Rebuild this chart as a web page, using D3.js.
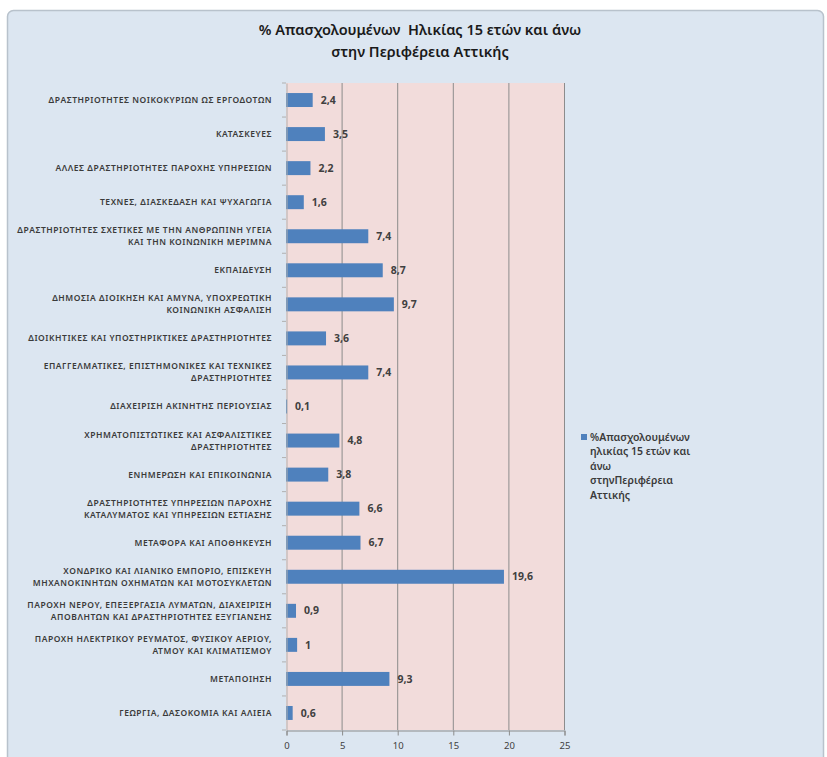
<!DOCTYPE html>
<html><head><meta charset="utf-8">
<script src="https://cdn.jsdelivr.net/npm/d3@7"></script>
<style>body{margin:0;background:#fff}svg{display:block}</style>
</head><body>
<script>
const categories = [
  "ΔΡΑΣΤΗΡΙΟΤΗΤΕΣ ΝΟΙΚΟΚΥΡΙΩΝ ΩΣ ΕΡΓΟΔΟΤΩΝ",
  "ΚΑΤΑΣΚΕΥΕΣ",
  "ΑΛΛΕΣ ΔΡΑΣΤΗΡΙΟΤΗΤΕΣ ΠΑΡΟΧΗΣ ΥΠΗΡΕΣΙΩΝ",
  "ΤΕΧΝΕΣ, ΔΙΑΣΚΕΔΑΣΗ ΚΑΙ ΨΥΧΑΓΩΓΙΑ",
  "ΔΡΑΣΤΗΡΙΟΤΗΤΕΣ ΣΧΕΤΙΚΕΣ ΜΕ ΤΗΝ ΑΝΘΡΩΠΙΝΗ ΥΓΕΙΑ|ΚΑΙ ΤΗΝ ΚΟΙΝΩΝΙΚΗ ΜΕΡΙΜΝΑ",
  "ΕΚΠΑΙΔΕΥΣΗ",
  "ΔΗΜΟΣΙΑ ΔΙΟΙΚΗΣΗ ΚΑΙ ΑΜΥΝΑ, ΥΠΟΧΡΕΩΤΙΚΗ|ΚΟΙΝΩΝΙΚΗ ΑΣΦΑΛΙΣΗ",
  "ΔΙΟΙΚΗΤΙΚΕΣ ΚΑΙ ΥΠΟΣΤΗΡΙΚΤΙΚΕΣ ΔΡΑΣΤΗΡΙΟΤΗΤΕΣ",
  "ΕΠΑΓΓΕΛΜΑΤΙΚΕΣ, ΕΠΙΣΤΗΜΟΝΙΚΕΣ ΚΑΙ ΤΕΧΝΙΚΕΣ|ΔΡΑΣΤΗΡΙΟΤΗΤΕΣ",
  "ΔΙΑΧΕΙΡΙΣΗ ΑΚΙΝΗΤΗΣ ΠΕΡΙΟΥΣΙΑΣ",
  "ΧΡΗΜΑΤΟΠΙΣΤΩΤΙΚΕΣ ΚΑΙ ΑΣΦΑΛΙΣΤΙΚΕΣ|ΔΡΑΣΤΗΡΙΟΤΗΤΕΣ",
  "ΕΝΗΜΕΡΩΣΗ ΚΑΙ ΕΠΙΚΟΙΝΩΝΙΑ",
  "ΔΡΑΣΤΗΡΙΟΤΗΤΕΣ ΥΠΗΡΕΣΙΩΝ ΠΑΡΟΧΗΣ|ΚΑΤΑΛΥΜΑΤΟΣ ΚΑΙ ΥΠΗΡΕΣΙΩΝ ΕΣΤΙΑΣΗΣ",
  "ΜΕΤΑΦΟΡΑ ΚΑΙ ΑΠΟΘΗΚΕΥΣΗ",
  "ΧΟΝΔΡΙΚΟ ΚΑΙ ΛΙΑΝΙΚΟ ΕΜΠΟΡΙΟ, ΕΠΙΣΚΕΥΗ|ΜΗΧΑΝΟΚΙΝΗΤΩΝ ΟΧΗΜΑΤΩΝ ΚΑΙ ΜΟΤΟΣΥΚΛΕΤΩΝ",
  "ΠΑΡΟΧΗ ΝΕΡΟΥ, ΕΠΕΞΕΡΓΑΣΙΑ ΛΥΜΑΤΩΝ, ΔΙΑΧΕΙΡΙΣΗ|ΑΠΟΒΛΗΤΩΝ ΚΑΙ ΔΡΑΣΤΗΡΙΟΤΗΤΕΣ ΕΞΥΓΙΑΝΣΗΣ",
  "ΠΑΡΟΧΗ ΗΛΕΚΤΡΙΚΟΥ ΡΕΥΜΑΤΟΣ, ΦΥΣΙΚΟΥ ΑΕΡΙΟΥ,|ΑΤΜΟΥ ΚΑΙ ΚΛΙΜΑΤΙΣΜΟΥ",
  "ΜΕΤΑΠΟΙΗΣΗ",
  "ΓΕΩΡΓΙΑ, ΔΑΣΟΚΟΜΙΑ ΚΑΙ ΑΛΙΕΙΑ"
];
const values = [2.4, 3.5, 2.2, 1.6, 7.4, 8.7, 9.7, 3.6, 7.4, 0.1, 4.8, 3.8, 6.6, 6.7, 19.6, 0.9, 1, 9.3, 0.6];
const xTicks = [0, 5, 10, 15, 20, 25];
const titleLines = ["% Απασχολουμένων  Ηλικίας 15 ετών και άνω", "στην Περιφέρεια Αττικής"];
const legendLines = ["%Απασχολουμένων", "ηλικίας 15 ετών και", "άνω", "στηνΠεριφέρεια", "Αττικής"];

const W = 827, H = 757;
const svg = d3.select("body").append("svg").attr("width", W).attr("height", H);
const font = "'Noto Sans', 'DejaVu Sans', sans-serif";

svg.append("rect").attr("x", 7.5).attr("y", 10.5).attr("width", 816).attr("height", 760)
  .attr("rx", 6).attr("fill", "#dce6f1").attr("stroke", "#b8c2cc").attr("stroke-width", 1.5);

const plot = {left: 286, right: 564, top: 83, bottom: 730};
const x = d3.scaleLinear().domain([0, 25]).range([plot.left, plot.right]);
const y = d3.scaleBand().domain(categories).range([plot.top, plot.bottom]).paddingInner(0.59).paddingOuter(0.295);

svg.append("rect").attr("x", plot.left).attr("y", plot.top).attr("width", plot.right - plot.left)
  .attr("height", plot.bottom - plot.top).attr("fill", "#f2dcdb");

// gridlines
svg.append("g").selectAll("line").data(xTicks.slice(1)).join("line")
  .attr("x1", d => x(d) + 0.5).attr("x2", d => x(d) + 0.5)
  .attr("y1", plot.top).attr("y2", plot.bottom)
  .attr("stroke", "#8c8c8c").attr("stroke-width", 1);

// bars
svg.append("g").selectAll("rect").data(values).join("rect")
  .attr("x", x(0)).attr("y", (d, i) => y(categories[i]))
  .attr("width", d => x(d) - x(0)).attr("height", y.bandwidth())
  .attr("fill", "#4f81bd");

// value labels
svg.append("g").selectAll("text").data(values).join("text")
  .attr("x", d => x(d) + 8).attr("y", (d, i) => y(categories[i]) + y.bandwidth() / 2)
  .attr("dy", "0.35em").attr("font-family", font).attr("font-size", 10.5).attr("font-weight", "bold")
  .attr("fill", "#404040")
  .text(d => String(d).replace(".", ","));

// x axis
const xAxis = d3.axisBottom(x).tickValues(xTicks).tickSize(5).tickFormat(d => d);
const gx = svg.append("g").attr("transform", `translate(0.5,${plot.bottom + 0.5})`).call(xAxis);
gx.select(".domain").attr("stroke", "#8c8c8c");
gx.selectAll(".tick line").attr("stroke", "#8c8c8c");
gx.selectAll(".tick text").attr("font-family", font).attr("font-size", 9.5).attr("fill", "#404040").attr("dy", "1.1em");

// y axis
const yAxis = d3.axisLeft(y).tickSize(0).tickFormat("");
const gy = svg.append("g").attr("transform", `translate(${plot.left + 0.5},0)`).call(yAxis);
gy.select(".domain").attr("stroke", "#b0b0b0");
// minor tick marks between categories
svg.append("g").selectAll("line").data(d3.range(categories.length + 1)).join("line")
  .attr("x1", plot.left - 4).attr("x2", plot.left)
  .attr("y1", i => plot.top + i * (plot.bottom - plot.top) / categories.length)
  .attr("y2", i => plot.top + i * (plot.bottom - plot.top) / categories.length)
  .attr("stroke", "#b0b0b0");

// category labels
const lab = svg.append("g").selectAll("text").data(categories).join("text")
  .attr("text-anchor", "end").attr("font-family", font).attr("font-size", 8.5)
  .attr("letter-spacing", 0.55)
  .attr("fill", "#3a3a3a").attr("font-weight", 600)
  .attr("transform", d => `translate(272,${y(d) + y.bandwidth() / 2})`);
lab.each(function(d) {
  const lines = d.split("|");
  const t = d3.select(this);
  lines.forEach((ln, k) => {
    t.append("tspan").attr("x", 0).attr("y", (k - (lines.length - 1) / 2) * 12).attr("dy", "0.35em").text(ln);
  });
});

// title
svg.append("g").selectAll("text").data(titleLines).join("text")
  .attr("x", 420).attr("y", (d, i) => 35 + i * 22).attr("text-anchor", "middle")
  .style("white-space", "pre")
  .attr("font-family", font).attr("font-size", 14.5).attr("font-weight", 600).attr("fill", "#1a1a1a")
  .text(d => d);

// legend
svg.append("rect").attr("x", 581).attr("y", 434).attr("width", 6).attr("height", 6).attr("fill", "#4f81bd");
svg.append("g").selectAll("text").data(legendLines).join("text")
  .attr("x", 590).attr("y", (d, i) => 437 + i * 14.5).attr("dy", "0.35em")
  .attr("font-family", font).attr("font-size", 10.5).attr("font-weight", 600).attr("fill", "#3a3a3a")
  .text(d => d);
</script>
</body></html>
